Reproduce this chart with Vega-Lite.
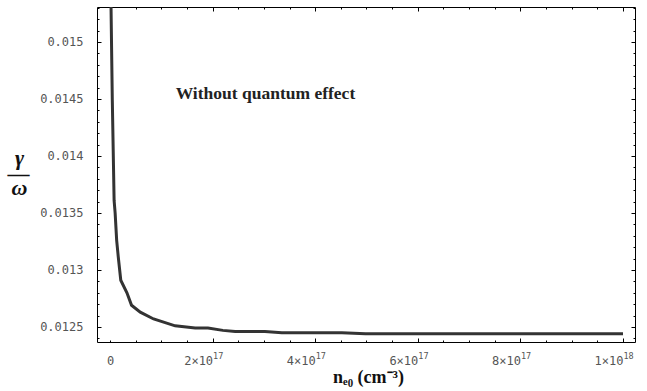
{
  "$schema": "https://vega.github.io/schema/vega-lite/v6.json",
  "autosize": {"type": "none"},
  "width": 538,
  "height": 335,
  "padding": {"left": 97, "top": 7, "right": 12, "bottom": 49},
  "background": "white",
  "config": {
    "view": {"stroke": "black", "strokeWidth": 1},
    "axis": {"domain": false, "grid": false, "zindex": 1, "tickColor": "black", "tickWidth": 1, "labelColor": "#555555", "labelFont": "DejaVu Sans Mono", "labelFontSize": 12}
  },
  "datasets": {
    "curve": [
      {"n": 1.5e15, "g": 0.0156},
      {"n": 2.0e15, "g": 0.01531},
      {"n": 4.5e15, "g": 0.01449},
      {"n": 8.0e15, "g": 0.01361},
      {"n": 1.0e16, "g": 0.0135},
      {"n": 1.3e16, "g": 0.01326},
      {"n": 1.6e16, "g": 0.01312},
      {"n": 2.1e16, "g": 0.01291},
      {"n": 3.3e16, "g": 0.0128},
      {"n": 4.2e16, "g": 0.01269},
      {"n": 5.9e16, "g": 0.01263},
      {"n": 8.5e16, "g": 0.01257},
      {"n": 1.27e17, "g": 0.01251},
      {"n": 1.66e17, "g": 0.01249},
      {"n": 1.91e17, "g": 0.01249},
      {"n": 2.2e17, "g": 0.01247},
      {"n": 2.44e17, "g": 0.01246},
      {"n": 3.02e17, "g": 0.01246},
      {"n": 3.35e17, "g": 0.01245},
      {"n": 4.52e17, "g": 0.01245},
      {"n": 4.98e17, "g": 0.01244},
      {"n": 6.0e17, "g": 0.01244},
      {"n": 1.0e18, "g": 0.01244}
    ],
    "note": [
      {"n": 3.03e17, "g": 0.0145, "label": "Without quantum effect"}
    ]
  },
  "resolve": {"axis": {"x": "independent", "y": "independent"}},
  "layer": [
    {
      "data": {"name": "curve"},
      "mark": {"type": "line", "color": "#333333", "strokeWidth": 3, "clip": true},
      "encoding": {
        "x": {
          "field": "n", "type": "quantitative",
          "scale": {"domain": [-2.534e16, 1.0234e18], "nice": false, "zero": false},
          "axis": {
            "orient": "bottom",
            "values": [2e17, 4e17, 6e17, 8e17, 1e18],
            "tickSize": -4,
            "labelPadding": 17,
            "labelAlign": "right",
            "labelDx": 8,
            "labelExpr": "datum.value >= 9.9e17 ? '1×10' : format(datum.value / 1e17, 'd') + '×10'",
            "title": "nₑ₀ (cm⁻³)",
            "titleFont": "Liberation Serif",
            "titleFontSize": 18,
            "titleFontWeight": "bold",
            "titleColor": "#111111",
            "titleX": 271,
            "titleY": 40,
            "titleBaseline": "alphabetic"
          }
        },
        "y": {
          "field": "g", "type": "quantitative",
          "scale": {"domain": [0.012368, 0.015307], "nice": false, "zero": false},
          "axis": {
            "orient": "left",
            "values": [0.0125, 0.013, 0.0135, 0.014, 0.0145, 0.015],
            "tickSize": -4,
            "labelPadding": 18,
            "labelExpr": "format(datum.value, '.4~f')",
            "title": "γ",
            "titleAngle": 0,
            "titleAlign": "center",
            "titleBaseline": "alphabetic",
            "titleFont": "Liberation Serif",
            "titleFontSize": 22,
            "titleFontStyle": "italic",
            "titleFontWeight": "bold",
            "titleColor": "#111111",
            "titleX": -78,
            "titleY": 157
          }
        }
      }
    },
    {
      "data": {"name": "note"},
      "mark": {"type": "text", "font": "Liberation Serif", "fontSize": 17.5, "fontWeight": "bold", "color": "#222222", "align": "center", "baseline": "alphabetic"},
      "encoding": {
        "x": {"field": "n", "type": "quantitative", "axis": null},
        "y": {"field": "g", "type": "quantitative", "axis": null},
        "text": {"field": "label"}
      }
    },
    {
      "data": {"name": "curve"},
      "mark": {"type": "point", "opacity": 0},
      "encoding": {
        "x": {"field": "n", "type": "quantitative", "axis": {"orient": "bottom", "values": [0, 5e16, 1e17, 1.5e17, 2.5e17, 3e17, 3.5e17, 4.5e17, 5e17, 5.5e17, 6.5e17, 7e17, 7.5e17, 8.5e17, 9e17, 9.5e17], "tickSize": -2, "labelPadding": 15, "labelExpr": "datum.value == 0 ? '0' : ''", "title": null}},
        "y": {"field": "g", "type": "quantitative", "axis": {
          "orient": "left",
          "values": [0.0124, 0.0126, 0.0127, 0.0128, 0.0129, 0.0131, 0.0132, 0.0133, 0.0134, 0.0136, 0.0137, 0.0138, 0.0139, 0.0141, 0.0142, 0.0143, 0.0144, 0.0146, 0.0147, 0.0148, 0.0149, 0.0151, 0.0152, 0.0153],
          "tickSize": -2, "labels": false,
          "title": "—",
          "titleAngle": 0,
          "titleAlign": "center",
          "titleBaseline": "alphabetic",
          "titleFont": "Liberation Serif",
          "titleFontSize": 22,
          "titleFontWeight": "bold",
          "titleColor": "#111111",
          "titleX": -79,
          "titleY": 173
        }}
      }
    },
    {
      "data": {"name": "curve"},
      "mark": {"type": "point", "opacity": 0},
      "encoding": {
        "x": {"field": "n", "type": "quantitative", "axis": {"orient": "top", "values": [0, 2e17, 4e17, 6e17, 8e17, 1e18], "tickSize": -4, "labels": false, "title": null}},
        "y": {"field": "g", "type": "quantitative", "axis": {"orient": "right", "values": [0.0125, 0.013, 0.0135, 0.014, 0.0145, 0.015], "tickSize": -4, "labels": false, "title": null}}
      }
    },
    {
      "data": {"name": "curve"},
      "mark": {"type": "point", "opacity": 0},
      "encoding": {
        "x": {"field": "n", "type": "quantitative", "axis": {"orient": "top", "values": [5e16, 1e17, 1.5e17, 2.5e17, 3e17, 3.5e17, 4.5e17, 5e17, 5.5e17, 6.5e17, 7e17, 7.5e17, 8.5e17, 9e17, 9.5e17], "tickSize": -2, "labels": false, "title": null}},
        "y": {"field": "g", "type": "quantitative", "axis": {"orient": "right", "values": [0.0124, 0.0126, 0.0127, 0.0128, 0.0129, 0.0131, 0.0132, 0.0133, 0.0134, 0.0136, 0.0137, 0.0138, 0.0139, 0.0141, 0.0142, 0.0143, 0.0144, 0.0146, 0.0147, 0.0148, 0.0149, 0.0151, 0.0152, 0.0153], "tickSize": -2, "labels": false, "title": null}}
      }
    },
    {
      "data": {"name": "curve"},
      "mark": {"type": "point", "opacity": 0},
      "encoding": {
        "x": {"field": "n", "type": "quantitative", "axis": {"orient": "bottom", "values": [2e17, 4e17, 6e17, 8e17, 1e18], "ticks": false, "labelPadding": 9.5, "labelAlign": "left", "labelDx": 9, "labelFontSize": 8.5, "labelExpr": "datum.value >= 9.9e17 ? '18' : '17'", "title": null}},
        "y": {"field": "g", "type": "quantitative", "axis": {
          "orient": "left", "ticks": false, "labels": false,
          "title": "ω",
          "titleAngle": 0,
          "titleAlign": "center",
          "titleBaseline": "alphabetic",
          "titleFont": "Liberation Serif",
          "titleFontSize": 22,
          "titleFontStyle": "italic",
          "titleFontWeight": "bold",
          "titleColor": "#111111",
          "titleX": -78,
          "titleY": 187
        }}
      }
    }
  ]
}
